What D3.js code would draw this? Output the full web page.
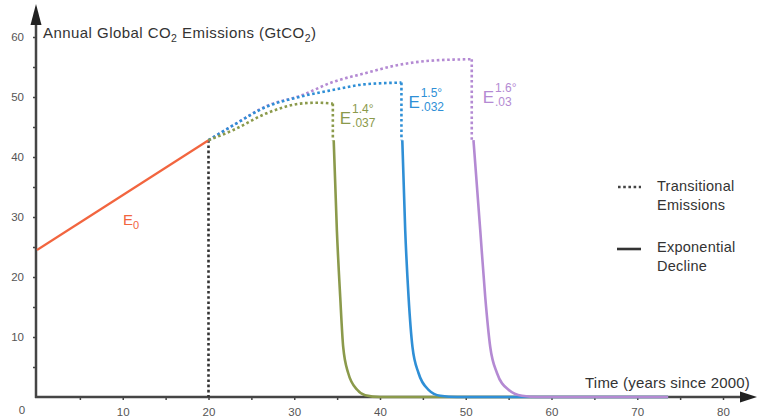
<!DOCTYPE html>
<html><head><meta charset="utf-8">
<script src="https://cdnjs.cloudflare.com/ajax/libs/d3/7.8.5/d3.min.js"></script>
<style>
html,body{margin:0;padding:0;background:#fff;}
svg{display:block;font-family:"Liberation Sans",Arial,sans-serif;}
</style></head>
<body><svg id="c" width="758" height="419"></svg>
<script>
// ---- data ----
const xTicks = [5,10,15,20,25,30,35,40,45,50,55,60,65,70,75,80];
const yTicks = [5,10,15,20,25,30,35,40,45,50,55,60];

const e0Years = [0, 20];
const e0Values = [24.5, 42.8];

const baselineYears = [20, 20];
const baselineValues = [42.8, 0];

// transitional (dotted) rises
const t14Years  = [20, 22.9, 26.8, 30.7, 32.6, 34.5];
const t14Values = [42.8, 44.5, 47.3, 48.9, 49.05, 48.9];
const t15Years  = [20, 22.9, 26.8, 30.7, 34.6, 38.1, 42.5];
const t15Values = [42.8, 45.3, 48.4, 50.05, 51.2, 52.1, 52.4];
const t16Years  = [20, 22.9, 26.8, 30.7, 34.6, 38.1, 42.0, 45.9, 50.7];
const t16Values = [42.8, 45.3, 48.5, 50.2, 52.55, 53.9, 55.3, 56.05, 56.3];

// exponential declines (solid)
const d14Years  = [34.6, 34.97, 35.36, 35.71, 36.29, 37.34, 38.27, 40.0, 73.6];
const d14Values = [42.8, 27.8, 16.7, 8.3, 4.0, 1.2, 0.3, 0, 0];
const d15Years  = [42.6, 42.94, 43.33, 43.79, 44.49, 45.66, 47.03, 49.0, 73.6];
const d15Values = [42.8, 27.8, 16.7, 8.3, 4.0, 1.2, 0.2, 0, 0];
const d16Years  = [50.9, 51.69, 52.27, 52.86, 53.64, 54.99, 56.56, 58.5, 73.6];
const d16Values = [42.8, 27.8, 16.7, 8.3, 4.0, 1.2, 0.2, 0, 0];

const scenarioNames = ["1.4°", "1.5°", "1.6°"];
const scenarioRates = [".037", ".032", ".03"];
const colors = {red:"#f2653f", green:"#8b9a4b", blue:"#2f8fd6", purple:"#b48ad3", axis:"#454545", text:"#333"};

// ---- drawing ----
const svg = d3.select("#c");
const x = d3.scaleLinear().domain([0, 80]).range([37, 723]);
const y = d3.scaleLinear().domain([0, 60]).range([397, 37]);
const zip = (a, b) => a.map((v, i) => [v, b[i]]);

// axes ticks + labels
const gx = svg.append("g").attr("transform", "translate(0,397)")
  .call(d3.axisBottom(x).tickValues(xTicks).tickSize(3).tickPadding(8)
    .tickFormat(d => d % 10 === 0 ? d : ""));
const gy = svg.append("g").attr("transform", "translate(36,0)")
  .call(d3.axisLeft(y).tickValues(yTicks).tickSize(3).tickPadding(9)
    .tickFormat(d => d % 10 === 0 ? d : ""));
[gx, gy].forEach(g => {
  g.select(".domain").remove();
  g.selectAll("line").attr("stroke", colors.axis).attr("stroke-width", 1.5);
  g.selectAll("text").attr("fill", "#555").style("font-size", "11.5px")
    .style("font-family", "'Liberation Sans',Arial,sans-serif");
});
svg.append("text").attr("x", x(0) - 15).attr("y", 414).attr("text-anchor", "middle")
  .attr("fill", "#555").style("font-size", "11.5px").text("0");

// axis lines with arrows
svg.append("line").attr("x1", 36).attr("x2", 36).attr("y1", 398).attr("y2", 22)
  .attr("stroke", colors.axis).attr("stroke-width", 2.5);
svg.append("path").attr("d", "M36,4 L30.5,25 L41.5,25 Z").attr("fill", "#222");
svg.append("line").attr("x1", 35).attr("x2", 742).attr("y1", 397).attr("y2", 397)
  .attr("stroke", colors.axis).attr("stroke-width", 2.5);
svg.append("path").attr("d", "M757,397 L740,391.5 L740,402.5 Z").attr("fill", "#222");

// axis titles
const title = svg.append("text").attr("x", 43).attr("y", 38).attr("fill", colors.text)
  .style("font-size", "15px").style("letter-spacing", "0.45px");
title.append("tspan").text("Annual Global CO");
title.append("tspan").attr("dy", 4).style("font-size", "10.5px").text("2");
title.append("tspan").attr("dy", -4).text(" Emissions (GtCO");
title.append("tspan").attr("dy", 4).style("font-size", "10.5px").text("2");
title.append("tspan").attr("dy", -4).text(")");

svg.append("text").attr("x", 750).attr("y", 388).attr("text-anchor", "end")
  .attr("fill", colors.text).style("font-size", "15px").style("letter-spacing", "0.2px")
  .text("Time (years since 2000)");

const line = d3.line().x(d => x(d[0])).y(d => y(d[1]));
const smooth = d3.line().x(d => x(d[0])).y(d => y(d[1])).curve(d3.curveMonotoneX);
const dash = "2.6,2.6";

// baseline vertical dotted at year 20
svg.append("path").attr("d", line(zip(baselineYears, baselineValues)))
  .attr("fill", "none").attr("stroke", "#333").attr("stroke-width", 2.6).attr("stroke-dasharray", dash);

// E0
svg.append("path").attr("d", line(zip(e0Years, e0Values)))
  .attr("fill", "none").attr("stroke", colors.red).attr("stroke-width", 2.2);

const scen = [
  {ty: t14Years, tv: t14Values, dy: d14Years, dv: d14Values, c: colors.green},
  {ty: t15Years, tv: t15Values, dy: d15Years, dv: d15Values, c: colors.blue},
  {ty: t16Years, tv: t16Values, dy: d16Years, dv: d16Values, c: colors.purple}
];
// transitional dotted
[2, 1, 0].forEach(i => {
  const s = scen[i];
  const pts = zip(s.ty, s.tv);
  svg.append("path").attr("d", smooth(pts))
    .attr("fill", "none").attr("stroke", s.c).attr("stroke-width", 2.6).attr("stroke-dasharray", dash);
  const last = pts[pts.length - 1];
  svg.append("path").attr("d", line([last, [last[0], s.dv[0]]]))
    .attr("fill", "none").attr("stroke", s.c).attr("stroke-width", 2.6).attr("stroke-dasharray", dash);
});
// solid declines
scen.forEach(s => {
  svg.append("path").attr("d", smooth(zip(s.dy, s.dv)))
    .attr("fill", "none").attr("stroke", s.c).attr("stroke-width", 2.6);
});

// labels
function eLabel(px, py, sup, sub, col, size) {
  const t = svg.append("text").attr("x", px).attr("y", py).attr("fill", col).style("font-size", size + "px");
  t.append("tspan").text("E");
  const gx0 = px + size * 0.72;
  svg.append("text").attr("x", gx0).attr("y", py - 11).attr("fill", col).style("font-size", "12px").text(sup);
  svg.append("text").attr("x", gx0).attr("y", py + 3).attr("fill", col).style("font-size", "12px").text(sub);
}
eLabel(x(t14Years[t14Years.length - 1]) + 7, 124, scenarioNames[0], scenarioRates[0], colors.green, 17);
eLabel(x(t15Years[t15Years.length - 1]) + 7, 108, scenarioNames[1], scenarioRates[1], colors.blue, 17);
eLabel(x(t16Years[t16Years.length - 1]) + 11, 103, scenarioNames[2], scenarioRates[2], colors.purple, 17);

const e0l = svg.append("text").attr("x", 123).attr("y", 225).attr("fill", colors.red).style("font-size", "15px");
e0l.append("tspan").text("E");
e0l.append("tspan").attr("dy", 4).style("font-size", "11px").text("0");

// legend
svg.append("line").attr("x1", 618).attr("x2", 641).attr("y1", 187).attr("y2", 187)
  .attr("stroke", "#444").attr("stroke-width", 2.6).attr("stroke-dasharray", dash);
svg.append("line").attr("x1", 617).attr("x2", 641).attr("y1", 249).attr("y2", 249)
  .attr("stroke", "#333").attr("stroke-width", 2.6);
[["Transitional", 191], ["Emissions", 210], ["Exponential", 252], ["Decline", 271]].forEach(([t, py]) => {
  svg.append("text").attr("x", 657).attr("y", py).attr("fill", colors.text)
    .style("font-size", "14.5px").style("letter-spacing", "0.25px").text(t);
});
</script></body></html>
